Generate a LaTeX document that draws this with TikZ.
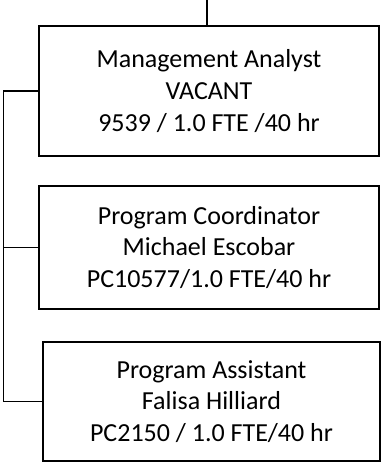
\documentclass[tikz,border=0pt]{standalone}
\usepackage{fontspec}
\setmainfont{Carlito}
\usepackage{tikz}
\usetikzlibrary{positioning}

\tikzset{post/.style={draw,line width=1.5pt,inner sep=0pt,align=center,
        font=\fontsize{26}{31.7}\selectfont}}

\begin{document}
\begin{tikzpicture}[x=1pt,y=-1pt,line width=1.5pt]
        \useasboundingbox (0,0) rectangle (381,462);
        \node [post,minimum width=340pt,minimum height=130pt] (analyst) at (209,91)
            {Management Analyst\\VACANT\\9539 / 1.0 FTE /40 hr};
        \node [post,minimum width=340pt,minimum height=123pt] (coordinator) at (209,247.5)
            {Program Coordinator\\Michael Escobar\\PC10577/1.0 FTE/40 hr};
        \node [post,minimum width=337pt,minimum height=119pt] (assistant) at (211.5,401.5)
            {Program Assistant\\Falisa Hilliard\\PC2150 / 1.0 FTE/40 hr};
        \coordinate (top) at (207,0);
        \coordinate (spine) at (3.5,0);
        
        \draw (top) -- (top |- analyst.north);
        \draw (analyst.west) -- (analyst.west -| spine) -- (assistant.west -| spine) -- (assistant.west);
        \draw (coordinator.west -| spine) -- (coordinator.west);
    \end{tikzpicture}
\end{document}
